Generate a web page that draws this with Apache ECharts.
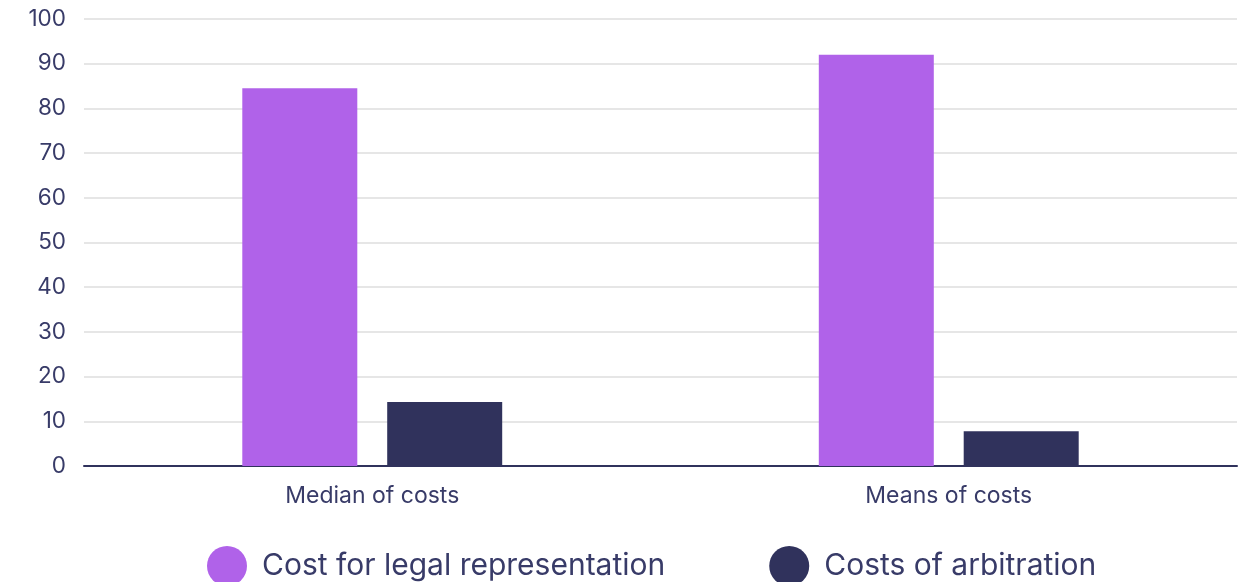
<!DOCTYPE html>
<html>
<head>
<meta charset="utf-8">
<script src="https://cdn.jsdelivr.net/npm/echarts@6/dist/echarts.min.js"></script>
<style>
html,body{margin:0;padding:0;background:#fff;}
#show{width:1245px;height:582px;}
</style>
</head>
<body>
<div id="show"></div>
<script>
var categories = ['Median of costs', 'Means of costs'];
var legalCost = [84.5, 92];
var arbitrationCost = [14.3, 7.8];
var seriesNames = ['Cost for legal representation', 'Costs of arbitration'];

var myChart = echarts.init(document.getElementById('show'));
var textColor = '#383b68';
var option = {
    animation: false,
    textStyle: { fontFamily: 'Inter' },
    grid: { left: 84, right: 8, top: 19, bottom: 116, containLabel: false },
    legend: {
        top: 541,
        left: 202,
        icon: 'circle',
        itemWidth: 40,
        itemHeight: 40,
        itemGap: 104,
        textStyle: { fontSize: 30, color: textColor, fontFamily: 'Inter', padding: [0, 0, 0, 10] },
        data: seriesNames
    },
    xAxis: {
        type: 'category',
        data: categories,
        axisLine: { lineStyle: { color: '#30325c', width: 2 } },
        axisTick: { show: false },
        axisLabel: { fontSize: 23, color: textColor, margin: 19 }
    },
    yAxis: {
        type: 'value',
        min: 0,
        max: 100,
        interval: 10,
        axisLine: { show: false },
        axisTick: { show: false },
        axisLabel: { fontSize: 22.5, color: textColor, margin: 18 },
        splitLine: { lineStyle: { color: '#e6e6e6', width: 2 } }
    },
    series: [
        {
            name: seriesNames[0],
            type: 'bar',
            data: legalCost,
            barWidth: 115,
            barGap: '26%',
            itemStyle: { color: '#b062e9' }
        },
        {
            name: seriesNames[1],
            type: 'bar',
            data: arbitrationCost,
            barWidth: 115,
            itemStyle: { color: '#30325c' }
        }
    ]
};
myChart.setOption(option);
</script>
</body>
</html>
